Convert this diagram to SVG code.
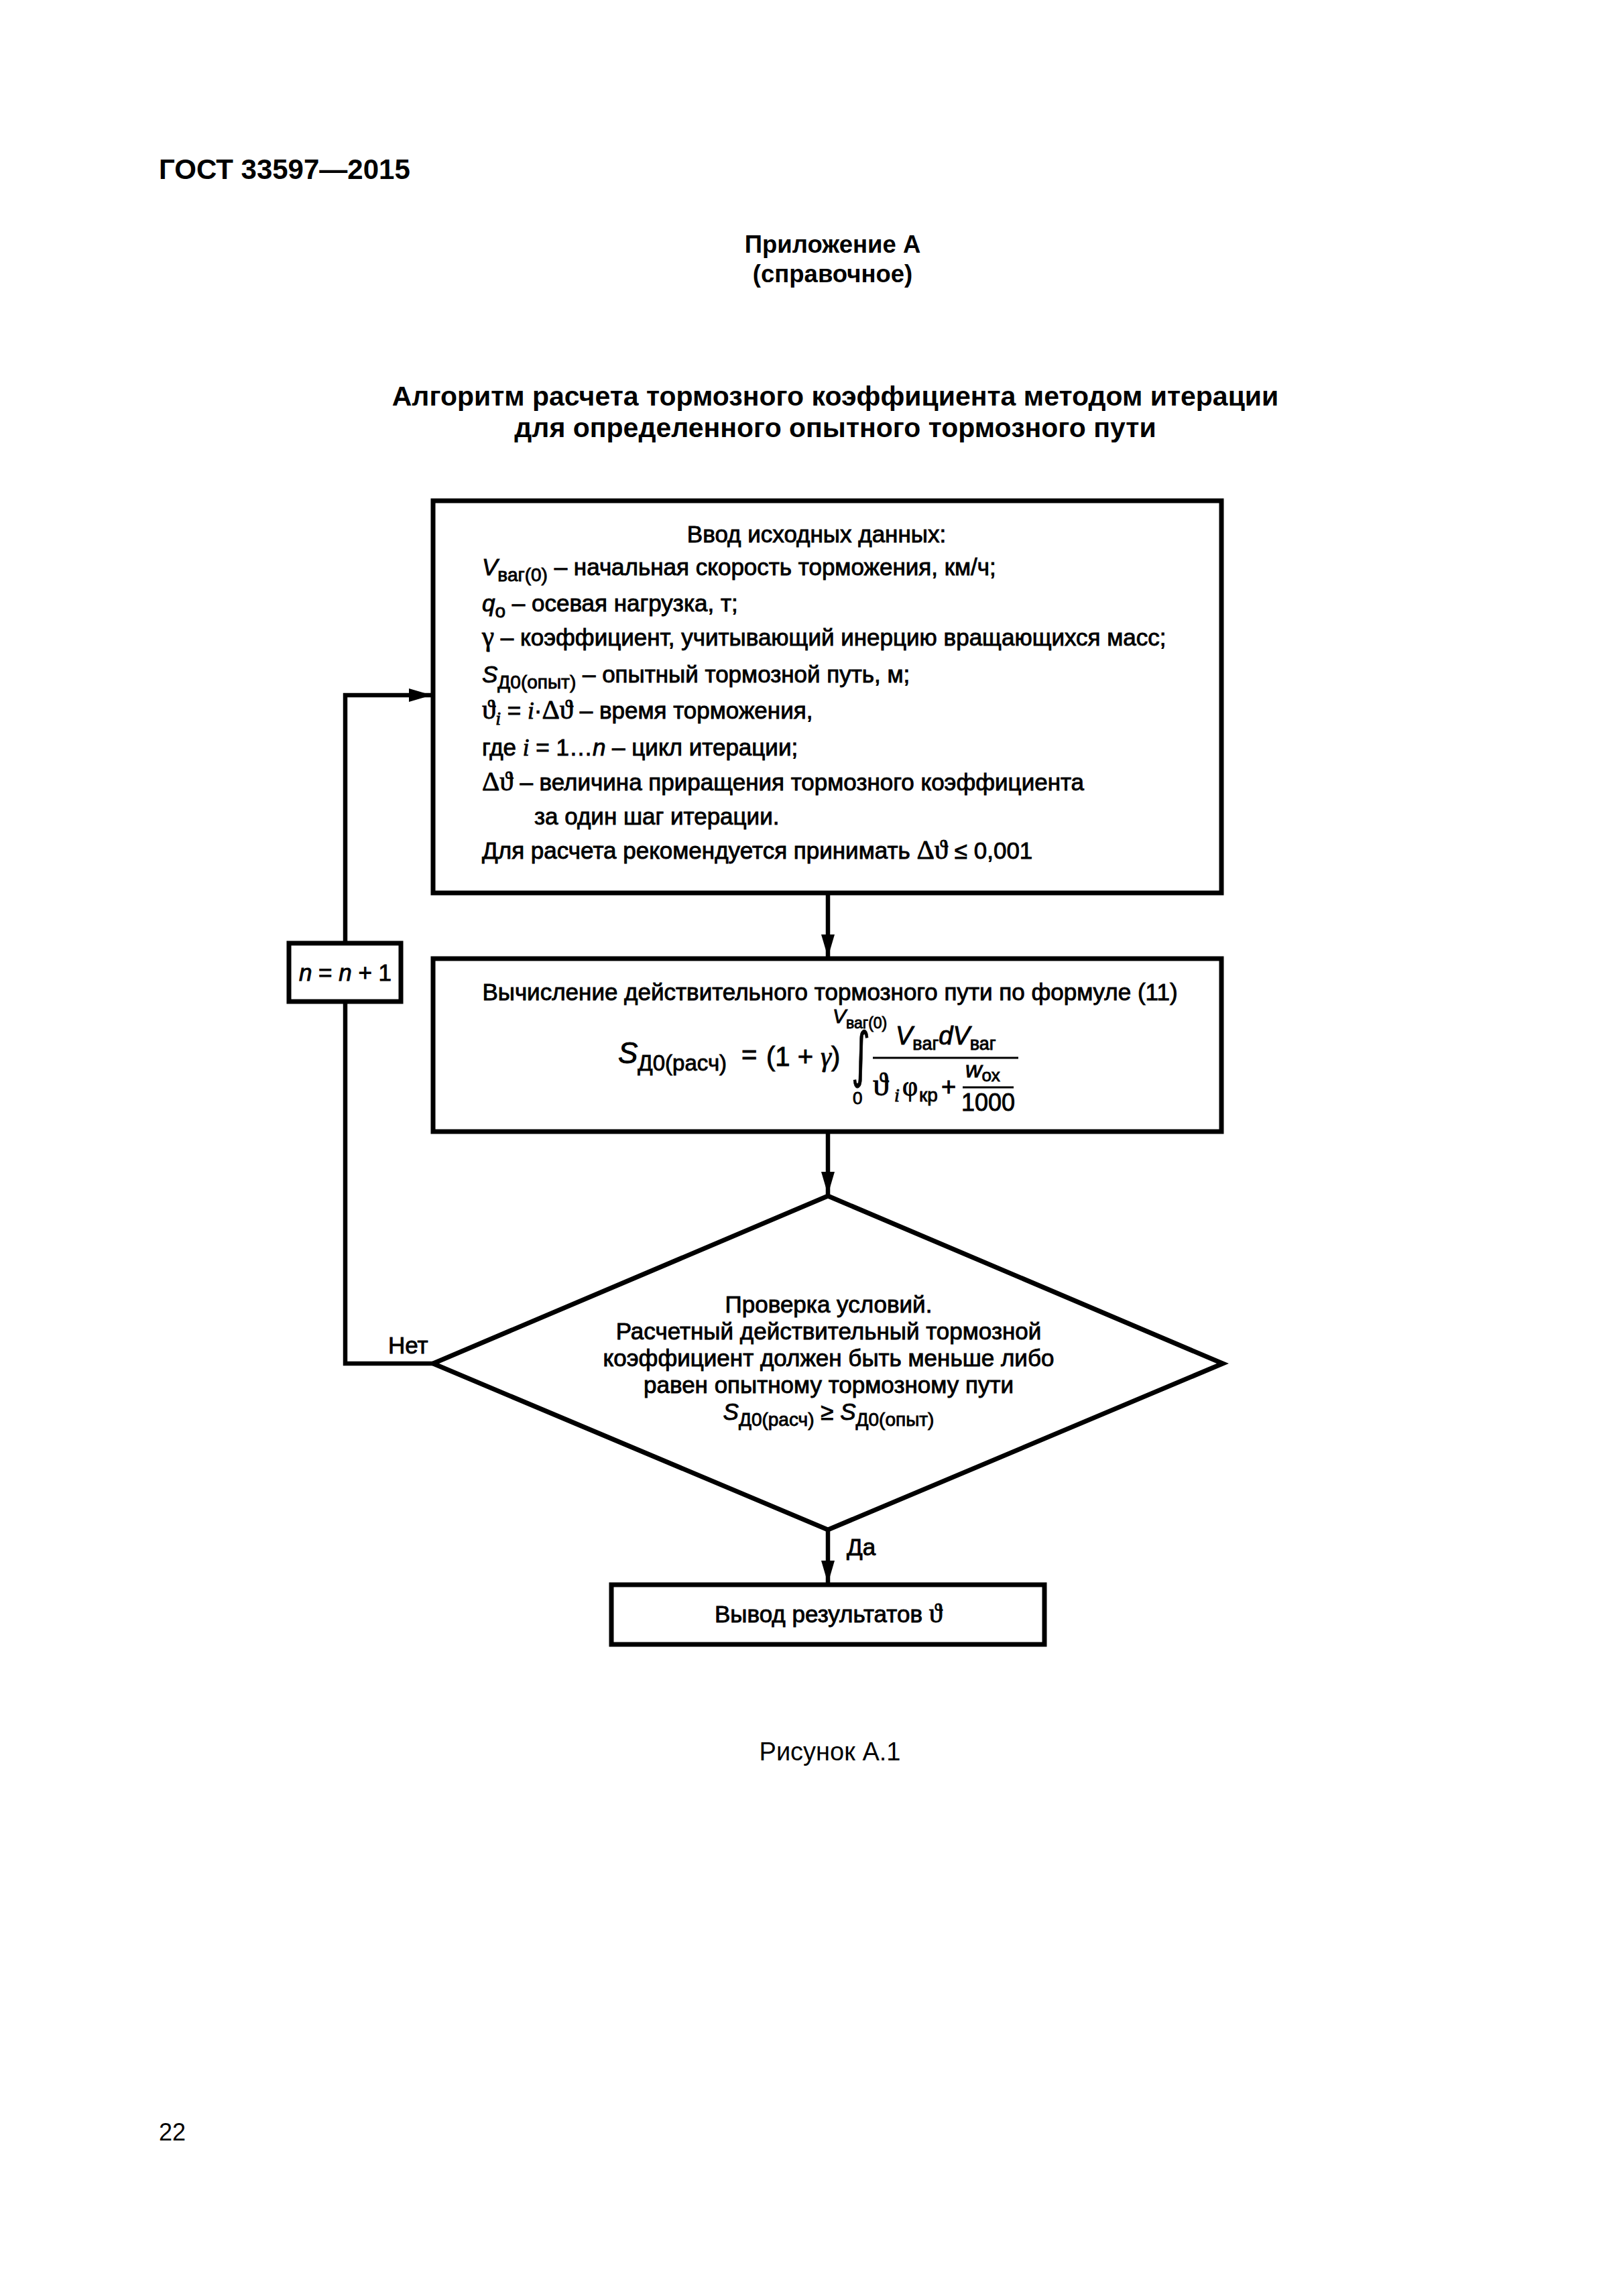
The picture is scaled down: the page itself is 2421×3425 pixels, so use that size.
<svg xmlns="http://www.w3.org/2000/svg" width="2421" height="3425" viewBox="0 0 2421 3425" font-size="35">
<style>
.t{font-family:"Liberation Sans",Arial,sans-serif;fill:#000;stroke:#000;stroke-width:0.9}
.b{font-weight:bold;stroke-width:0}
.r{stroke-width:0}
.s{font-family:"Liberation Serif","DejaVu Serif",serif}
.sy{font-family:"Liberation Serif","DejaVu Serif",serif;font-size:41px}
.i{font-style:italic}
.c{text-anchor:middle}
.box{fill:none;stroke:#000;stroke-width:7}
.ln{fill:none;stroke:#000;stroke-width:6.5}
.bar{stroke:#000;stroke-width:3}
</style>
<defs>
<marker id="ah" markerUnits="userSpaceOnUse" markerWidth="36" markerHeight="22" refX="34" refY="11" orient="auto">
<path d="M0,1 L34,11 L0,21 z" fill="#000"/>
</marker>
</defs>
<rect width="2421" height="3425" fill="#fff"/>

<g id="header">
<text class="t b" x="237" y="267" font-size="42">ГОСТ 33597—2015</text>
<text class="t b c" x="1242" y="377" font-size="36.5">Приложение А</text>
<text class="t b c" x="1242" y="421" font-size="36.5">(справочное)</text>
<text class="t b c" x="1246" y="605" font-size="41">Алгоритм расчета тормозного коэффициента методом итерации</text>
<text class="t b c" x="1246" y="652" font-size="41">для определенного опытного тормозного пути</text>
</g>

<g id="connectors">
<line class="ln" x1="1235" y1="1332" x2="1235" y2="1428" marker-end="url(#ah)"/>
<line class="ln" x1="1235" y1="1688" x2="1235" y2="1782" marker-end="url(#ah)"/>
<line class="ln" x1="1235" y1="2282" x2="1235" y2="2362" marker-end="url(#ah)"/>
<polyline class="ln" points="646,2034 515,2034 515,1494"/>
<polyline class="ln" points="515,1407 515,1037 644,1037" marker-end="url(#ah)"/>
<text class="t" x="579" y="2019">Нет</text>
<text class="t" x="1263" y="2320">Да</text>
</g>

<g id="input">
<rect class="box" x="646" y="747" width="1176" height="585"/>
<text class="t c" x="1218" y="809">Ввод исходных данных:</text>
<text class="t" x="719" y="858"><tspan class="i">V</tspan><tspan font-size="28" dy="9">ваг(0)</tspan><tspan dy="-9"> – начальная скорость торможения, км/ч;</tspan></text>
<text class="t" x="719" y="912"><tspan class="i">q</tspan><tspan font-size="28" dy="9">о</tspan><tspan dy="-9"> – осевая нагрузка, т;</tspan></text>
<text class="t" x="719" y="963"><tspan class="sy">γ</tspan> – коэффициент, учитывающий инерцию вращающихся масс;</text>
<text class="t" x="719" y="1018"><tspan class="i">S</tspan><tspan font-size="28" dy="9">Д0(опыт)</tspan><tspan dy="-9"> – опытный тормозной путь, м;</tspan></text>
<text class="t" x="719" y="1072"><tspan class="sy">ϑ</tspan><tspan class="s i" font-size="28" dy="9">i</tspan><tspan dy="-9"> = </tspan><tspan class="s i">i</tspan><tspan>·</tspan><tspan class="sy">Δϑ</tspan><tspan> – время торможения,</tspan></text>
<text class="t" x="719" y="1127">где <tspan class="s i">i</tspan> = 1…<tspan class="i">n</tspan> – цикл итерации;</text>
<text class="t" x="719" y="1179"><tspan class="sy">Δϑ</tspan> – величина приращения тормозного коэффициента</text>
<text class="t" x="797" y="1230">за один шаг итерации.</text>
<text class="t" x="719" y="1281">Для расчета рекомендуется принимать <tspan class="sy">Δϑ</tspan> ≤ 0,001</text>
</g>

<g id="calc">
<rect class="box" x="646" y="1430" width="1176" height="258"/>
<text class="t c" x="1238" y="1492">Вычисление действительного тормозного пути по формуле (11)</text>
<text class="t" x="922" y="1586" font-size="44"><tspan class="i">S</tspan><tspan font-size="33" dy="11">Д0(расч)</tspan></text>
<text class="t" x="1106" y="1587" font-size="40">=</text>
<text class="t" x="1143" y="1590" font-size="40">(1 + <tspan class="s i">γ</tspan>)</text>
<text class="t" style="font-family:'DejaVu Sans',sans-serif;font-size:90px" text-anchor="middle" transform="translate(1284,1604) scale(0.6,1)">∫</text>
<text class="t" x="1242" y="1526" font-size="30"><tspan class="i">V</tspan><tspan font-size="23" dy="8">ваг(0)</tspan></text>
<text class="t" x="1272" y="1647" font-size="26">0</text>
<text class="t" x="1336" y="1558" font-size="38"><tspan class="i">V</tspan><tspan font-size="27" dy="8">ваг</tspan><tspan class="i" dy="-8">d</tspan><tspan class="i">V</tspan><tspan font-size="27" dy="8">ваг</tspan></text>
<line class="bar" x1="1302" y1="1578" x2="1519" y2="1578"/>
<text class="t s" x="1302" y="1634" font-size="48">ϑ</text>
<text class="t s i" x="1334" y="1643" font-size="28">i</text>
<text class="t s" x="1346" y="1634" font-size="40">φ</text>
<text class="t" x="1371" y="1643" font-size="28">кр</text>
<text class="t" x="1404" y="1634" font-size="38">+</text>
<text class="t" x="1440" y="1607" font-size="34"><tspan class="i">w</tspan><tspan font-size="26" dy="6">ох</tspan></text>
<line class="bar" x1="1436" y1="1622" x2="1512" y2="1622"/>
<text class="t c" x="1474" y="1657" font-size="36">1000</text>
</g>

<g id="check">
<polygon class="box" points="1235,1784 1824,2034 1235,2282 646,2034"/>
<text class="t c" x="1236" y="1958">Проверка условий.</text>
<text class="t c" x="1236" y="1998">Расчетный действительный тормозной</text>
<text class="t c" x="1236" y="2038">коэффициент должен быть меньше либо</text>
<text class="t c" x="1236" y="2078">равен опытному тормозному пути</text>
<text class="t c" x="1236" y="2118"><tspan class="i">S</tspan><tspan font-size="28" dy="9">Д0(расч)</tspan><tspan dy="-9"> ≥ </tspan><tspan class="i">S</tspan><tspan font-size="28" dy="9">Д0(опыт)</tspan></text>
</g>

<g id="incr">
<rect class="box" x="431" y="1407" width="167" height="87" stroke-width="6"/>
<text class="t c" x="515" y="1463"><tspan class="i">n</tspan> = <tspan class="i">n</tspan> + 1</text>
</g>

<g id="output">
<rect class="box" x="912" y="2364" width="646" height="89"/>
<text class="t c" x="1236" y="2420">Вывод результатов <tspan class="sy">ϑ</tspan></text>
</g>

<g id="footer">
<text class="t r c" x="1238" y="2626" font-size="38">Рисунок А.1</text>
<text class="t r" x="237" y="3193" font-size="36">22</text>
</g>
</svg>
